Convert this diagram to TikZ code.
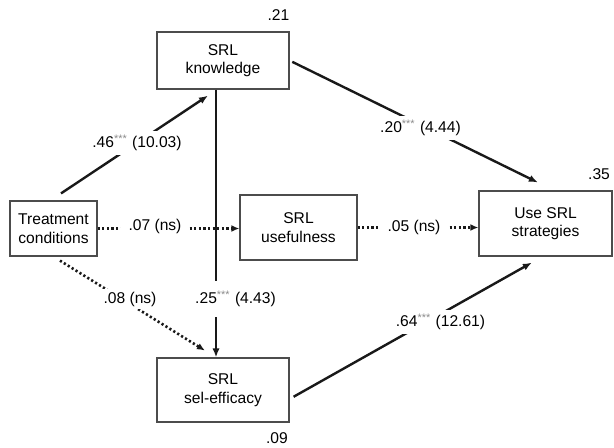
\documentclass[tikz,border=0pt]{standalone}
\usepackage{fontspec}
\setmainfont{Liberation Sans}
\usetikzlibrary{arrows.meta,calc}
\newcommand{\sig}{\textsuperscript{\color{black!45}***}}
\begin{document}
\begin{tikzpicture}[x=0.5pt,y=-0.5pt,
  box/.style={draw=black!70,line width=0.6pt,align=center,inner sep=0pt,font=\fontsize{7.8}{9.3}\selectfont,text=black},
  lab/.style={font=\fontsize{7.8}{9.3}\selectfont,text=black,inner sep=1pt},
  wlab/.style={lab,fill=white},
  solidarrow/.style={draw=black!90,line width=1.2pt,-{Latex[length=4.5pt,width=3.6pt]}},
  dotarrow/.style={draw=black!90,line width=1.3pt,dash pattern=on 1.1pt off 1.2pt,-{Latex[length=4pt,width=3.4pt]}},
]
\useasboundingbox (0,0) rectangle (614,447);
\node[box,minimum width=43.5pt,minimum height=27.5pt] (tr) at (53.5,228.5) {Treatment\\conditions};
\node[box,minimum width=66pt,minimum height=28.5pt] (kn) at (223,60.5) {SRL\\knowledge};
\node[box,minimum width=58.5pt,minimum height=32.5pt] (uf) at (298.5,227.5) {SRL\\usefulness};
\node[box,minimum width=66.5pt,minimum height=32.5pt] (us) at (545.5,223.5) {Use SRL\\strategies};
\node[box,minimum width=66pt,minimum height=32pt] (se) at (223,390) {SRL\\sel-efficacy};

\node[lab] (r21) at (278.5,15) {.21};
\node[lab] (r35) at (599,174) {.35};
\node[lab] (r09) at (277,438) {.09};

% connectors
\draw[solidarrow,shorten <=6.3pt,shorten >=5.4pt] ([xshift=-1.5pt]tr.north) -- ([xshift=-3pt]kn.south);
\draw[solidarrow,shorten <=1.5pt,shorten >=9pt] (kn.east) -- ([xshift=4.25pt]us.north);
\draw[solidarrow] ([xshift=-3.5pt]kn.south) -- ([xshift=-3.5pt]se.north);
\draw[solidarrow,shorten <=2.3pt,shorten >=6.1pt] ([yshift=-4.5pt]se.east) -- ([xshift=-1.5pt]us.south);
\draw[dotarrow] (tr.east) -- (tr.east -| uf.west);
\draw[dotarrow] (uf.east) -- (uf.east -| us.west);
\draw[dotarrow,shorten <=3.8pt,shorten >=6.5pt] (tr.south) -- ([xshift=-3.5pt]se.north);

% labels
\node[wlab,inner ysep=2pt] (l46) at (137,143) {.46\sig\ (10.03)};
\node[wlab,inner ysep=2pt] (l20) at (420.5,128) {.20\sig\ (4.44)};
\node[wlab,inner xsep=4pt] (l07) at (155,226) {.07 (ns)};
\node[wlab,inner xsep=4pt] (l05) at (414,227) {.05 (ns)};
\node[wlab,inner sep=1.5pt] (l08) at (130,299) {.08 (ns)};
\node[wlab,inner ysep=5pt] (l25) at (235.5,299) {.25\sig\ (4.43)};
\node[wlab,inner ysep=2pt] (l64) at (440.5,322) {.64\sig\ (12.61)};
\end{tikzpicture}
\end{document}
